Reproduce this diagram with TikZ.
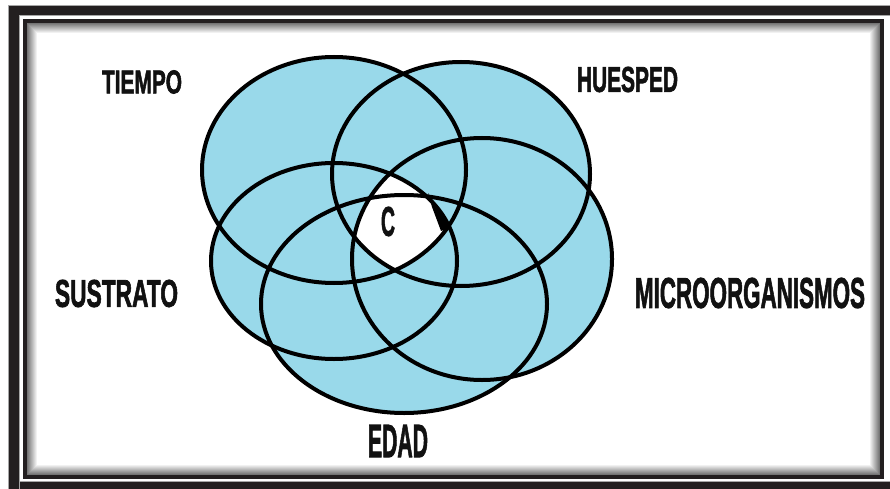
\documentclass[tikz,border=0pt]{standalone}
\usepackage{fontspec}
\setmainfont{Liberation Sans}
\newfontfamily\lblfont{Liberation Sans}[BoldFeatures={FakeBold=2.2}]
\definecolor{vennblue}{HTML}{99D9EA}
\definecolor{framek}{HTML}{231F20}
\definecolor{inkk}{HTML}{111111}
\newcommand{\vlbl}[3]{\resizebox{#1pt}{#2pt}{\lblfont\bfseries #3}}
\begin{document}
\begin{tikzpicture}[x=1pt,y=-1pt,
  vring/.style={draw=black,line width=4pt},
  vlabel/.style={inner sep=0pt,text=inkk}]
\useasboundingbox (0,0) rectangle (890,489);
\fill[white] (0,0) rectangle (890,489);
% outer frame band
\fill[framek] (8,5) rectangle (890,15);
\fill[framek] (8,5) rectangle (19,489);
\fill[framek] (8,481) rectangle (890,489);
\draw[gray!70,line width=0.8pt] (8.4,489) -- (8.4,5.4) -- (890,5.4);
\draw[gray!70,line width=0.8pt] (19,489) -- (19,15) -- (890,15);
\draw[gray!70,line width=0.8pt] (19,481) -- (890,481);
% inner glow
\foreach \i in {1,...,10}{
  \pgfmathsetmacro\g{60*(1-\i/11)}
  \draw[black!\g,line width=1.05pt] (27+\i-0.5,23+\i-0.5) rectangle (880-\i+0.5,475-\i+0.5);
}
% inner frame line
\draw[framek,line width=4pt] (25,21) rectangle (882,477);
% ellipses
\def\eT{(334,170) ellipse [x radius=132pt, y radius=113pt]}
\def\eH{(461,174) ellipse [x radius=129pt, y radius=112pt]}
\def\eM{(482,259) ellipse [x radius=130pt, y radius=121pt]}
\def\eS{(334,261) ellipse [x radius=123pt, y radius=98pt]}
\def\eE{(404,304) ellipse [x radius=143pt, y radius=109pt]}
\fill[vennblue] \eT; \fill[vennblue] \eH; \fill[vennblue] \eM;
\fill[vennblue] \eS; \fill[vennblue] \eE;
\begin{scope}
  \clip \eT; \clip \eH; \clip \eM; \clip \eS;
  \fill[white] (300,150) rectangle (500,300);
\end{scope}
\fill[black] (428,193) -- (449,228) -- (441,231) -- (432,207) -- cycle;
\draw[vring] \eT; \draw[vring] \eH; \draw[vring] \eM;
\draw[vring] \eS; \draw[vring] \eE;
% labels
\node[vlabel] (tiempo) at (142,82) {\vlbl{80}{23}{TIEMPO}};
\node[vlabel] (huesped) at (627.5,79.5) {\vlbl{101}{25}{HUESPED}};
\node[vlabel] (sustrato) at (116.5,293.5) {\vlbl{123}{27}{SUSTRATO}};
\node[vlabel] (micro) at (750,293) {\vlbl{230}{30}{MICROORGANISMOS}};
\node[vlabel] (edad) at (398,441) {\vlbl{60}{32}{EDAD}};
\node[vlabel] (c) at (388,221.5) {\vlbl{14}{29}{C}};
\end{tikzpicture}
\end{document}
